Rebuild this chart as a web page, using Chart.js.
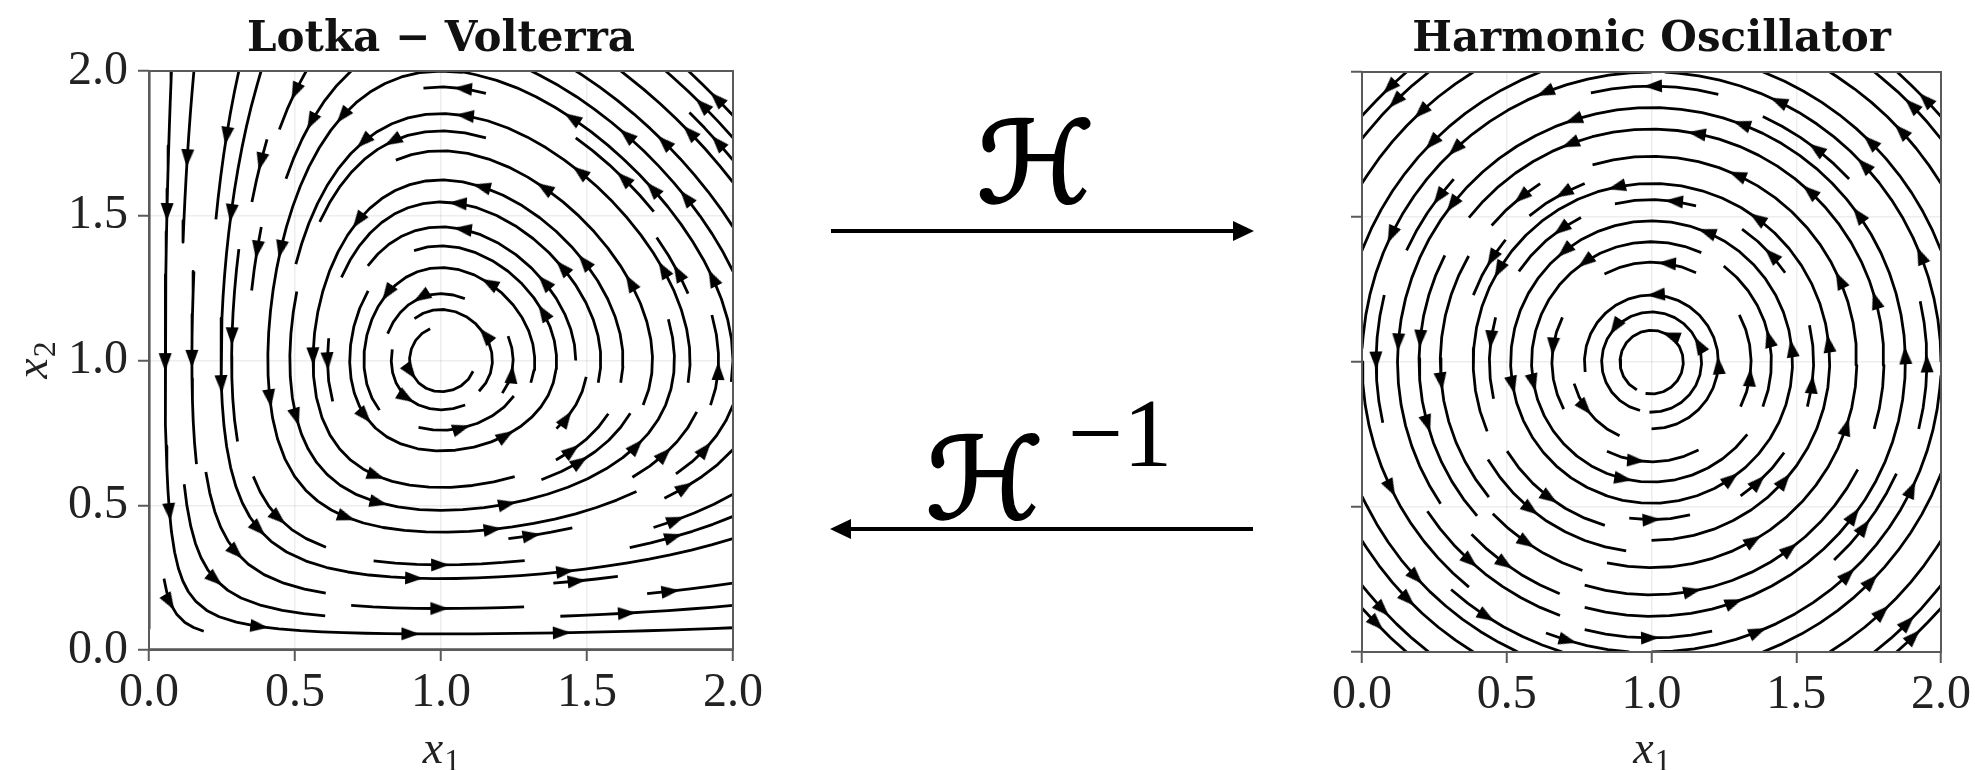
<!DOCTYPE html>
<html>
<head>
<meta charset="utf-8">
<title>Lotka-Volterra / Harmonic Oscillator</title>
<script src="https://cdn.jsdelivr.net/npm/chart.js@4.4.1/dist/chart.umd.min.js"></script>
<style>
  body { margin: 0; background: #fff; width: 1975px; height: 770px; overflow: hidden; position: relative; }
  canvas { position: absolute; top: 0; }
  #lvChart { left: 0; }
  #hoChart { left: 1213px; }
  #maps { position: absolute; left: 0; top: 0; }
</style>
</head>
<body>
<canvas id="lvChart" width="770" height="770"></canvas>
<canvas id="hoChart" width="762" height="770"></canvas>
<svg id="maps" width="1975" height="770">
  <line x1="831" y1="231" x2="1236" y2="231" stroke="#000" stroke-width="4"/>
  <polygon points="1233,221 1254,231 1233,241" fill="#000"/>
  <text x="977" y="202" textLength="118" lengthAdjust="spacingAndGlyphs" font-family="DejaVu Serif, DejaVu Sans" font-style="italic" font-size="112" stroke="#000" stroke-width="2.5">ℋ</text>
  <line x1="848" y1="529" x2="1253" y2="529" stroke="#000" stroke-width="4"/>
  <polygon points="851,519 830,529 851,539" fill="#000"/>
  <text x="926" y="518" textLength="118" lengthAdjust="spacingAndGlyphs" font-family="DejaVu Serif, DejaVu Sans" font-style="italic" font-size="112" stroke="#000" stroke-width="2.5">ℋ</text>
  <text x="1120" y="466" font-family="Liberation Serif" font-size="98" text-anchor="middle">−1</text>
</svg>
<script>
// axes (both panels share the same range)
const axisRange = [0, 2];
const tickValues = [0, 0.5, 1, 1.5, 2];
const tickLabels = ['0.0', '0.5', '1.0', '1.5', '2.0'];
const panelTitles = ['Lotka − Volterra', 'Harmonic Oscillator'];

// x1' = a*x1 - b*x1*x2,  x2' = d*x1*x2 - c*x2
const lvRates = [1, 1, 1, 1];
// rotation about the centre, x1' = -w*(x2 - c2), x2' = w*(x1 - c1)
const hoCentre = [1, 1];
const hoOmega = [1];
const streamDensity = [0.9, 0.9];
// one arrow head per this much streamline length (data units)
const arrowSpacing = [0.6, 0.6];

const lvField = (x, y) => {
  const [a, b, c, d] = lvRates;
  return [a * x - b * x * y, d * x * y - c * y];
};
const hoField = (x, y) => [-hoOmega[0] * (y - hoCentre[1]), hoOmega[0] * (x - hoCentre[0])];

// ---- streamline tracing, same scheme as matplotlib's streamplot ----
function roundEven(v) {
  const f = Math.floor(v), d = v - f;
  if (d > 0.5) return f + 1;
  if (d < 0.5) return f;
  return f % 2 === 0 ? f : f + 1;
}

function* spiral(nx, ny) {
  let xfirst = 0, yfirst = 1, xlast = nx - 1, ylast = ny - 1, x = 0, y = 0, dir = 'right';
  for (let i = 0; i < nx * ny; i++) {
    yield [x, y];
    if (dir === 'right') { x++; if (x >= xlast) { xlast--; dir = 'up'; } }
    else if (dir === 'up') { y++; if (y >= ylast) { ylast--; dir = 'left'; } }
    else if (dir === 'left') { x--; if (x <= xfirst) { xfirst++; dir = 'down'; } }
    else { y--; if (y <= yfirst) { yfirst++; dir = 'right'; } }
  }
}

function traceStreams(field, range, density) {
  const n = Math.floor(30 * density);
  const mask = new Uint8Array(n * n);
  const lo = range[0], span = range[1] - range[0];
  const maxds = Math.min(1 / n, 0.1), maxerror = 0.003, minlength = 0.1, maxlength = 4.0;
  const OUT = 'out', STOP = 'stop';
  const inside = (x, y) => x >= 0 && x <= 1 && y >= 0 && y <= 1;
  let cur = null, traj = [];

  function f(ax, ay, sign) {
    if (!inside(ax, ay)) throw OUT;
    const [u, v] = field(lo + ax * span, lo + ay * span);
    const s = Math.hypot(u, v);
    if (s === 0) throw STOP;
    return [sign * u / s, sign * v / s];
  }

  function visit(ax, ay) {
    const xm = roundEven(ax * (n - 1)), ym = roundEven(ay * (n - 1));
    if (cur && cur[0] === xm && cur[1] === ym) return true;
    const k = ym * n + xm;
    if (mask[k]) return false;
    mask[k] = 1; traj.push(k); cur = [xm, ym];
    return true;
  }

  function rk12(x0, y0, sign) {
    let ds = maxds, stotal = 0, xi = x0, yi = y0;
    const pts = [];
    for (;;) {
      let k1, k2;
      try {
        if (!inside(xi, yi)) throw OUT;
        pts.push([xi, yi]);
        k1 = f(xi, yi, sign);
        k2 = f(xi + ds * k1[0], yi + ds * k1[1], sign);
      } catch (e) {
        if (e === OUT && pts.length) {
          // last short euler step onto the edge
          try {
            const [px, py] = pts[pts.length - 1];
            const [cx, cy] = f(px, py, sign);
            const dsx = cx === 0 ? Infinity : cx < 0 ? px / -cx : (1 - px) / cx;
            const dsy = cy === 0 ? Infinity : cy < 0 ? py / -cy : (1 - py) / cy;
            const d = Math.min(dsx, dsy);
            pts.push([px + cx * d, py + cy * d]);
            stotal += d;
          } catch (e2) { /* stalled */ }
        }
        break;
      }
      const dx1 = ds * k1[0], dy1 = ds * k1[1];
      const dx2 = ds * 0.5 * (k1[0] + k2[0]), dy2 = ds * 0.5 * (k1[1] + k2[1]);
      const err = Math.hypot(dx2 - dx1, dy2 - dy1);
      if (err < maxerror) {
        xi += dx2; yi += dy2;
        if (!inside(xi, yi) || !visit(xi, yi)) break;
        if (stotal + ds > maxlength) break;
        stotal += ds;
      }
      ds = err === 0 ? maxds : Math.min(maxds, 0.85 * ds * Math.sqrt(maxerror / err));
    }
    return [stotal, pts];
  }

  const lines = [];
  for (const [xm, ym] of spiral(n, n)) {
    if (mask[ym * n + xm]) continue;
    const x0 = xm / (n - 1), y0 = ym / (n - 1);
    traj = [];
    visit(x0, y0);
    const [sb, pb] = rk12(x0, y0, -1);
    cur = [xm, ym];
    const [sf, pf] = rk12(x0, y0, 1);
    if (sb + sf > minlength) {
      lines.push(pb.reverse().concat(pf.slice(1)).map(([a, b]) => [lo + a * span, lo + b * span]));
    } else {
      traj.forEach(k => { mask[k] = 0; });
    }
  }
  return lines;
}

// arrow heads spread evenly along each streamline (at least one, in the middle)
function arrowsFor(lines, spacing, range) {
  const pts = [], rot = [];
  const onEdge = v => Math.abs(v - range[0]) < 1e-6 || Math.abs(v - range[1]) < 1e-6;
  lines.forEach(l => {
    if (l.length < 2) return;
    const s = [];
    let acc = 0;
    for (let i = 1; i < l.length; i++) {
      acc += Math.hypot(l[i][0] - l[i - 1][0], l[i][1] - l[i - 1][1]);
      s.push(acc);
    }
    const count = Math.max(1, Math.round(acc / spacing));
    for (let j = 1; j <= count; j++) {
      const target = acc * j / (count + 1);
      let k = 0;
      while (k < s.length && s[k] < target) k++;
      const a = l[k], b = l[Math.min(k + 1, l.length - 1)];
      const x = (a[0] + b[0]) / 2, y = (a[1] + b[1]) / 2;
      if (onEdge(x) || onEdge(y)) continue;
      pts.push({ x, y });
      rot.push(Math.atan2(b[0] - a[0], b[1] - a[1]) * 180 / Math.PI);
    }
  });
  return { pts, rot };
}

function arrowHead(len, wid) {
  const s = Math.ceil(len * 2 + 4);
  const c = document.createElement('canvas');
  c.width = s; c.height = s;
  const g = c.getContext('2d');
  const cx = s / 2, cy = s / 2;
  g.fillStyle = '#000';
  g.beginPath();
  g.moveTo(cx, cy);
  g.lineTo(cx + wid / 2, cy + len);
  g.lineTo(cx - wid / 2, cy + len);
  g.closePath();
  g.fill();
  return c;
}
const headImg = arrowHead(18, 13);

const serif = 'Liberation Serif';
const spineColor = '#5a5a5a';

const framePlugin = {
  id: 'frame',
  afterDraw(chart, args, opts) {
    const { ctx, chartArea: a } = chart;
    ctx.save();
    ctx.strokeStyle = spineColor;
    ctx.lineWidth = 2;
    ctx.strokeRect(a.left, a.top, a.right - a.left, a.bottom - a.top);
    // axis labels x1 / x2 with subscripts
    ctx.fillStyle = '#222';
    const sub = (t, s, x, y) => {
      ctx.font = `italic 46px ${serif}`;
      const w1 = ctx.measureText(t).width;
      ctx.font = `32px ${serif}`;
      const w2 = ctx.measureText(s).width;
      const x0 = x - (w1 + w2) / 2;
      ctx.font = `italic 46px ${serif}`;
      ctx.textAlign = 'left';
      ctx.textBaseline = 'alphabetic';
      ctx.fillText(t, x0, y);
      ctx.font = `32px ${serif}`;
      ctx.fillText(s, x0 + w1 + 1, y + 8);
    };
    sub('x', '1', (a.left + a.right) / 2, 763);
    if (opts.yLabel) {
      ctx.translate(47, (a.top + a.bottom) / 2);
      ctx.rotate(-Math.PI / 2);
      sub('x', '2', 0, 0);
    }
    ctx.restore();
  }
};

function makePanel(id, field, density, spacing, title, showYLabels, top, right) {
  const lines = traceStreams(field, axisRange, density);
  const flat = [];
  lines.forEach(l => {
    l.forEach(([x, y]) => flat.push({ x, y }));
    flat.push({ x: null, y: null });
  });
  const heads = arrowsFor(lines, spacing, axisRange);

  const grid = {
    color: 'rgba(0,0,0,0.07)',
    lineWidth: 1.5,
    tickColor: spineColor,
    tickLength: 11,
    tickWidth: 2
  };
  const tickFont = { family: serif, size: 48 };

  return new Chart(document.getElementById(id), {
    type: 'scatter',
    data: {
      datasets: [
        {
          data: heads.pts,
          pointStyle: headImg,
          pointRotation: heads.rot,
          pointRadius: 6,
          showLine: false
        },
        {
          data: flat,
          showLine: true,
          borderColor: '#000',
          borderWidth: 2.8,
          borderJoinStyle: 'round',
          borderCapStyle: 'butt',
          pointRadius: 0,
          tension: 0,
          spanGaps: false
        }
      ]
    },
    options: {
      responsive: false,
      animation: false,
      devicePixelRatio: 1,
      events: [],
      layout: { padding: { left: 0, right: right, top: 0, bottom: 0 } },
      plugins: {
        legend: { display: false },
        tooltip: { enabled: false },
        title: {
          display: true,
          text: title,
          fullSize: false,
          color: '#111',
          font: { family: 'DejaVu Serif', size: 42, weight: 'bold', lineHeight: 1.2 },
          padding: { top: 15, bottom: top - 15 - 50.4 }
        },
        frame: { yLabel: showYLabels }
      },
      scales: {
        x: {
          type: 'linear',
          min: axisRange[0],
          max: axisRange[1],
          afterBuildTicks: s => { s.ticks = tickValues.map(v => ({ value: v })); },
          afterFit: s => { s.height = 770 - 650 - (top === 72 ? 2 : 0); },
          ticks: {
            callback: (v) => tickLabels[tickValues.indexOf(v)],
            font: tickFont,
            color: '#222',
            padding: 4,
            maxRotation: 0
          },
          grid: grid,
          border: { display: false }
        },
        y: {
          type: 'linear',
          min: axisRange[0],
          max: axisRange[1],
          afterBuildTicks: s => { s.ticks = tickValues.map(v => ({ value: v })); },
          afterFit: s => { s.width = 149; },
          ticks: {
            display: showYLabels,
            callback: (v) => tickLabels[tickValues.indexOf(v)],
            font: tickFont,
            color: '#222',
            padding: 10
          },
          grid: grid,
          border: { display: false }
        }
      }
    },
    plugins: [framePlugin]
  });
}

makePanel('lvChart', lvField, streamDensity[0], arrowSpacing[0], panelTitles[0], true, 71, 770 - 733);
makePanel('hoChart', hoField, streamDensity[1], arrowSpacing[1], panelTitles[1], false, 72, 762 - 731);
</script>
</body>
</html>
